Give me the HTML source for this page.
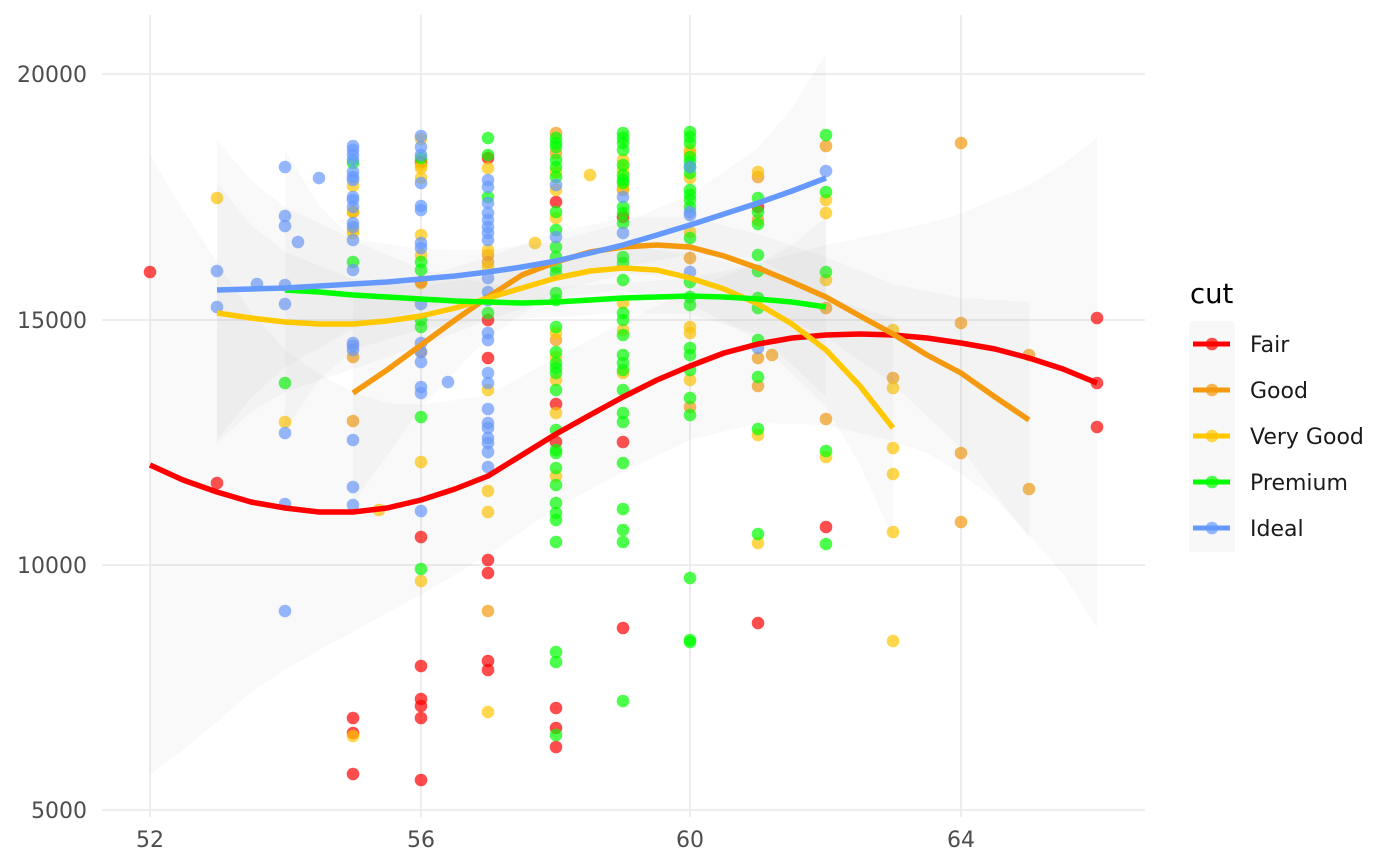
<!DOCTYPE html>
<html><head><meta charset="utf-8"><style>
html,body{margin:0;padding:0;background:#fff;}
svg{display:block;font-family:"DejaVu Sans","Liberation Sans",sans-serif;}
</style></head><body>
<svg width="1400" height="866" viewBox="0 0 1400 866" xmlns="http://www.w3.org/2000/svg">
<rect width="1400" height="866" fill="#fff"/>
<!-- grid -->
<g stroke="#ebebeb" stroke-width="1.8">
<line x1="102" y1="74" x2="1145" y2="74"/>
<line x1="102" y1="320" x2="1145" y2="320"/>
<line x1="102" y1="565" x2="1145" y2="565"/>
<line x1="102" y1="810" x2="1145" y2="810"/>
<line x1="150" y1="15" x2="150" y2="817"/>
<line x1="421" y1="15" x2="421" y2="817"/>
<line x1="690" y1="15" x2="690" y2="817"/>
<line x1="961" y1="15" x2="961" y2="817"/>
</g>
<!-- axis labels -->
<g fill="#4d4d4d" font-size="22">
<text x="87" y="82" text-anchor="end">20000</text>
<text x="87" y="328" text-anchor="end">15000</text>
<text x="87" y="573" text-anchor="end">10000</text>
<text x="87" y="818" text-anchor="end">5000</text>
<text x="150" y="847" text-anchor="middle">52</text>
<text x="421" y="847" text-anchor="middle">56</text>
<text x="690" y="847" text-anchor="middle">60</text>
<text x="961" y="847" text-anchor="middle">64</text>
</g>
<!-- points -->
<g fill-opacity="0.7">
<g fill="#ff0000">
<circle cx="150" cy="272" r="6.3"/><circle cx="217" cy="483" r="6.3"/><circle cx="353" cy="718" r="6.3"/><circle cx="353" cy="733" r="6.3"/><circle cx="353" cy="774" r="6.3"/><circle cx="421" cy="162" r="6.3"/><circle cx="421" cy="282" r="6.3"/><circle cx="421" cy="537" r="6.3"/><circle cx="421" cy="666" r="6.3"/><circle cx="421" cy="699" r="6.3"/><circle cx="421" cy="706" r="6.3"/><circle cx="421" cy="718" r="6.3"/><circle cx="421" cy="780" r="6.3"/><circle cx="488" cy="158" r="6.3"/><circle cx="488" cy="320" r="6.3"/><circle cx="488" cy="358" r="6.3"/><circle cx="488" cy="560" r="6.3"/><circle cx="488" cy="573" r="6.3"/><circle cx="488" cy="661" r="6.3"/><circle cx="488" cy="670" r="6.3"/><circle cx="556" cy="202" r="6.3"/><circle cx="556" cy="404" r="6.3"/><circle cx="556" cy="442" r="6.3"/><circle cx="556" cy="708" r="6.3"/><circle cx="556" cy="728" r="6.3"/><circle cx="556" cy="747" r="6.3"/><circle cx="623" cy="217" r="6.3"/><circle cx="623" cy="442" r="6.3"/><circle cx="623" cy="628" r="6.3"/><circle cx="758" cy="207" r="6.3"/><circle cx="758" cy="623" r="6.3"/><circle cx="826" cy="527" r="6.3"/><circle cx="1097" cy="318" r="6.3"/><circle cx="1097" cy="383" r="6.3"/><circle cx="1097" cy="427" r="6.3"/>
</g>
<g fill="#f59a0f">
<circle cx="353" cy="212" r="6.3"/><circle cx="353" cy="357" r="6.3"/><circle cx="353" cy="421" r="6.3"/><circle cx="421" cy="352" r="6.3"/><circle cx="488" cy="255" r="6.3"/><circle cx="488" cy="262" r="6.3"/><circle cx="488" cy="611" r="6.3"/><circle cx="556" cy="133" r="6.3"/><circle cx="556" cy="153" r="6.3"/><circle cx="556" cy="340" r="6.3"/><circle cx="623" cy="190" r="6.3"/><circle cx="690" cy="153" r="6.3"/><circle cx="690" cy="258" r="6.3"/><circle cx="690" cy="407" r="6.3"/><circle cx="758" cy="177" r="6.3"/><circle cx="758" cy="220" r="6.3"/><circle cx="758" cy="358" r="6.3"/><circle cx="772" cy="355" r="6.3"/><circle cx="758" cy="386" r="6.3"/><circle cx="826" cy="146" r="6.3"/><circle cx="826" cy="308" r="6.3"/><circle cx="826" cy="419" r="6.3"/><circle cx="893" cy="378" r="6.3"/><circle cx="961" cy="143" r="6.3"/><circle cx="961" cy="323" r="6.3"/><circle cx="961" cy="453" r="6.3"/><circle cx="961" cy="522" r="6.3"/><circle cx="1029" cy="355" r="6.3"/><circle cx="1029" cy="489" r="6.3"/>
</g>
<g fill="#ffc400">
<circle cx="217" cy="198" r="6.3"/><circle cx="285" cy="422" r="6.3"/><circle cx="353" cy="186" r="6.3"/><circle cx="353" cy="212" r="6.3"/><circle cx="353" cy="230" r="6.3"/><circle cx="353" cy="233" r="6.3"/><circle cx="353" cy="736" r="6.3"/><circle cx="379" cy="510" r="6.3"/><circle cx="421" cy="139" r="6.3"/><circle cx="421" cy="165" r="6.3"/><circle cx="421" cy="168" r="6.3"/><circle cx="421" cy="178" r="6.3"/><circle cx="421" cy="235" r="6.3"/><circle cx="421" cy="255" r="6.3"/><circle cx="421" cy="283" r="6.3"/><circle cx="421" cy="462" r="6.3"/><circle cx="421" cy="581" r="6.3"/><circle cx="488" cy="168" r="6.3"/><circle cx="488" cy="250" r="6.3"/><circle cx="488" cy="267" r="6.3"/><circle cx="488" cy="390" r="6.3"/><circle cx="488" cy="491" r="6.3"/><circle cx="488" cy="512" r="6.3"/><circle cx="488" cy="712" r="6.3"/><circle cx="535" cy="243" r="6.3"/><circle cx="556" cy="172" r="6.3"/><circle cx="556" cy="190" r="6.3"/><circle cx="556" cy="218" r="6.3"/><circle cx="556" cy="333" r="6.3"/><circle cx="556" cy="357" r="6.3"/><circle cx="556" cy="380" r="6.3"/><circle cx="556" cy="413" r="6.3"/><circle cx="556" cy="476" r="6.3"/><circle cx="590" cy="175" r="6.3"/><circle cx="623" cy="160" r="6.3"/><circle cx="623" cy="170" r="6.3"/><circle cx="623" cy="188" r="6.3"/><circle cx="623" cy="303" r="6.3"/><circle cx="623" cy="330" r="6.3"/><circle cx="623" cy="373" r="6.3"/><circle cx="690" cy="150" r="6.3"/><circle cx="690" cy="178" r="6.3"/><circle cx="690" cy="232" r="6.3"/><circle cx="690" cy="327" r="6.3"/><circle cx="690" cy="333" r="6.3"/><circle cx="690" cy="380" r="6.3"/><circle cx="758" cy="172" r="6.3"/><circle cx="758" cy="435" r="6.3"/><circle cx="758" cy="543" r="6.3"/><circle cx="826" cy="200" r="6.3"/><circle cx="826" cy="213" r="6.3"/><circle cx="826" cy="280" r="6.3"/><circle cx="826" cy="457" r="6.3"/><circle cx="893" cy="330" r="6.3"/><circle cx="893" cy="388" r="6.3"/><circle cx="893" cy="448" r="6.3"/><circle cx="893" cy="474" r="6.3"/><circle cx="893" cy="532" r="6.3"/><circle cx="893" cy="641" r="6.3"/>
</g>
<g fill="#00ff00">
<circle cx="285" cy="383" r="6.3"/><circle cx="353" cy="163" r="6.3"/><circle cx="353" cy="262" r="6.3"/><circle cx="421" cy="158" r="6.3"/><circle cx="421" cy="262" r="6.3"/><circle cx="421" cy="270" r="6.3"/><circle cx="421" cy="320" r="6.3"/><circle cx="421" cy="327" r="6.3"/><circle cx="421" cy="417" r="6.3"/><circle cx="421" cy="569" r="6.3"/><circle cx="488" cy="138" r="6.3"/><circle cx="488" cy="155" r="6.3"/><circle cx="488" cy="197" r="6.3"/><circle cx="488" cy="313" r="6.3"/><circle cx="556" cy="138" r="6.3"/><circle cx="556" cy="143" r="6.3"/><circle cx="556" cy="147" r="6.3"/><circle cx="556" cy="160" r="6.3"/><circle cx="556" cy="167" r="6.3"/><circle cx="556" cy="177" r="6.3"/><circle cx="556" cy="212" r="6.3"/><circle cx="556" cy="230" r="6.3"/><circle cx="556" cy="247" r="6.3"/><circle cx="556" cy="257" r="6.3"/><circle cx="556" cy="267" r="6.3"/><circle cx="556" cy="273" r="6.3"/><circle cx="556" cy="293" r="6.3"/><circle cx="556" cy="300" r="6.3"/><circle cx="556" cy="327" r="6.3"/><circle cx="556" cy="352" r="6.3"/><circle cx="556" cy="363" r="6.3"/><circle cx="556" cy="368" r="6.3"/><circle cx="556" cy="373" r="6.3"/><circle cx="556" cy="390" r="6.3"/><circle cx="556" cy="430" r="6.3"/><circle cx="556" cy="450" r="6.3"/><circle cx="556" cy="453" r="6.3"/><circle cx="556" cy="468" r="6.3"/><circle cx="556" cy="485" r="6.3"/><circle cx="556" cy="503" r="6.3"/><circle cx="556" cy="513" r="6.3"/><circle cx="556" cy="520" r="6.3"/><circle cx="556" cy="542" r="6.3"/><circle cx="556" cy="652" r="6.3"/><circle cx="556" cy="662" r="6.3"/><circle cx="556" cy="735" r="6.3"/><circle cx="623" cy="133" r="6.3"/><circle cx="623" cy="138" r="6.3"/><circle cx="623" cy="143" r="6.3"/><circle cx="623" cy="150" r="6.3"/><circle cx="623" cy="165" r="6.3"/><circle cx="623" cy="175" r="6.3"/><circle cx="623" cy="180" r="6.3"/><circle cx="623" cy="183" r="6.3"/><circle cx="623" cy="207" r="6.3"/><circle cx="623" cy="213" r="6.3"/><circle cx="623" cy="223" r="6.3"/><circle cx="623" cy="257" r="6.3"/><circle cx="623" cy="263" r="6.3"/><circle cx="623" cy="280" r="6.3"/><circle cx="623" cy="313" r="6.3"/><circle cx="623" cy="320" r="6.3"/><circle cx="623" cy="335" r="6.3"/><circle cx="623" cy="355" r="6.3"/><circle cx="623" cy="363" r="6.3"/><circle cx="623" cy="370" r="6.3"/><circle cx="623" cy="390" r="6.3"/><circle cx="623" cy="413" r="6.3"/><circle cx="623" cy="422" r="6.3"/><circle cx="623" cy="463" r="6.3"/><circle cx="623" cy="509" r="6.3"/><circle cx="623" cy="530" r="6.3"/><circle cx="623" cy="542" r="6.3"/><circle cx="623" cy="701" r="6.3"/><circle cx="690" cy="132" r="6.3"/><circle cx="690" cy="137" r="6.3"/><circle cx="690" cy="143" r="6.3"/><circle cx="690" cy="157" r="6.3"/><circle cx="690" cy="162" r="6.3"/><circle cx="690" cy="167" r="6.3"/><circle cx="690" cy="173" r="6.3"/><circle cx="690" cy="190" r="6.3"/><circle cx="690" cy="195" r="6.3"/><circle cx="690" cy="200" r="6.3"/><circle cx="690" cy="207" r="6.3"/><circle cx="690" cy="238" r="6.3"/><circle cx="690" cy="282" r="6.3"/><circle cx="690" cy="297" r="6.3"/><circle cx="690" cy="305" r="6.3"/><circle cx="690" cy="348" r="6.3"/><circle cx="690" cy="355" r="6.3"/><circle cx="690" cy="370" r="6.3"/><circle cx="690" cy="398" r="6.3"/><circle cx="690" cy="415" r="6.3"/><circle cx="690" cy="578" r="6.3"/><circle cx="690" cy="640" r="6.3"/><circle cx="690" cy="642" r="6.3"/><circle cx="758" cy="198" r="6.3"/><circle cx="758" cy="212" r="6.3"/><circle cx="758" cy="224" r="6.3"/><circle cx="758" cy="255" r="6.3"/><circle cx="758" cy="271" r="6.3"/><circle cx="758" cy="298" r="6.3"/><circle cx="758" cy="308" r="6.3"/><circle cx="758" cy="340" r="6.3"/><circle cx="758" cy="377" r="6.3"/><circle cx="758" cy="429" r="6.3"/><circle cx="758" cy="534" r="6.3"/><circle cx="826" cy="135" r="6.3"/><circle cx="826" cy="192" r="6.3"/><circle cx="826" cy="272" r="6.3"/><circle cx="826" cy="451" r="6.3"/><circle cx="826" cy="544" r="6.3"/>
</g>
<g fill="#6699ff">
<circle cx="217" cy="271" r="6.3"/><circle cx="217" cy="307" r="6.3"/><circle cx="257" cy="284" r="6.3"/><circle cx="285" cy="167" r="6.3"/><circle cx="285" cy="216" r="6.3"/><circle cx="285" cy="226" r="6.3"/><circle cx="285" cy="285" r="6.3"/><circle cx="285" cy="304" r="6.3"/><circle cx="285" cy="433" r="6.3"/><circle cx="285" cy="504" r="6.3"/><circle cx="285" cy="611" r="6.3"/><circle cx="298" cy="242" r="6.3"/><circle cx="319" cy="178" r="6.3"/><circle cx="353" cy="146" r="6.3"/><circle cx="353" cy="150" r="6.3"/><circle cx="353" cy="155" r="6.3"/><circle cx="353" cy="160" r="6.3"/><circle cx="353" cy="172" r="6.3"/><circle cx="353" cy="177" r="6.3"/><circle cx="353" cy="180" r="6.3"/><circle cx="353" cy="197" r="6.3"/><circle cx="353" cy="200" r="6.3"/><circle cx="353" cy="207" r="6.3"/><circle cx="353" cy="223" r="6.3"/><circle cx="353" cy="227" r="6.3"/><circle cx="353" cy="240" r="6.3"/><circle cx="353" cy="270" r="6.3"/><circle cx="353" cy="343" r="6.3"/><circle cx="353" cy="346" r="6.3"/><circle cx="353" cy="350" r="6.3"/><circle cx="353" cy="440" r="6.3"/><circle cx="353" cy="487" r="6.3"/><circle cx="353" cy="505" r="6.3"/><circle cx="421" cy="136" r="6.3"/><circle cx="421" cy="147" r="6.3"/><circle cx="421" cy="155" r="6.3"/><circle cx="421" cy="183" r="6.3"/><circle cx="421" cy="206" r="6.3"/><circle cx="421" cy="210" r="6.3"/><circle cx="421" cy="243" r="6.3"/><circle cx="421" cy="248" r="6.3"/><circle cx="421" cy="304" r="6.3"/><circle cx="421" cy="343" r="6.3"/><circle cx="421" cy="352" r="6.3"/><circle cx="421" cy="362" r="6.3"/><circle cx="421" cy="387" r="6.3"/><circle cx="421" cy="393" r="6.3"/><circle cx="421" cy="511" r="6.3"/><circle cx="448" cy="382" r="6.3"/><circle cx="488" cy="180" r="6.3"/><circle cx="488" cy="187" r="6.3"/><circle cx="488" cy="203" r="6.3"/><circle cx="488" cy="213" r="6.3"/><circle cx="488" cy="220" r="6.3"/><circle cx="488" cy="227" r="6.3"/><circle cx="488" cy="233" r="6.3"/><circle cx="488" cy="240" r="6.3"/><circle cx="488" cy="278" r="6.3"/><circle cx="488" cy="292" r="6.3"/><circle cx="488" cy="300" r="6.3"/><circle cx="488" cy="333" r="6.3"/><circle cx="488" cy="340" r="6.3"/><circle cx="488" cy="373" r="6.3"/><circle cx="488" cy="383" r="6.3"/><circle cx="488" cy="409" r="6.3"/><circle cx="488" cy="423" r="6.3"/><circle cx="488" cy="428" r="6.3"/><circle cx="488" cy="438" r="6.3"/><circle cx="488" cy="443" r="6.3"/><circle cx="488" cy="452" r="6.3"/><circle cx="488" cy="467" r="6.3"/><circle cx="556" cy="185" r="6.3"/><circle cx="556" cy="237" r="6.3"/><circle cx="623" cy="197" r="6.3"/><circle cx="623" cy="233" r="6.3"/><circle cx="690" cy="167" r="6.3"/><circle cx="690" cy="212" r="6.3"/><circle cx="690" cy="215" r="6.3"/><circle cx="690" cy="272" r="6.3"/><circle cx="758" cy="348" r="6.3"/><circle cx="826" cy="171" r="6.3"/>
</g>
</g>
<!-- ribbons -->
<g fill="#999999" fill-opacity="0.06">
<polygon points="150,155 183,210 217,262 251,312 285,350 319,374 353,392 387,403 421,405 488,395 556,358 623,322 690,290 758,263 826,245 893,231 927,223 961,214 995,199 1029,185 1063,164 1097,138 1097,628 1063,574 1029,535 995,499 961,474 927,453 893,441 826,425 758,423 690,440 623,472 556,508 488,555 421,595 387,613 353,632 319,650 285,670 251,692 217,722 183,750 150,775"/>
<polygon points="353,283 421,278 488,257 556,232 623,218 690,217 758,234 826,257 893,284 961,298 1029,302 1029,538 961,448 893,384 826,337 758,304 690,277 623,274 556,292 488,337 421,408 353,503"/>
<polygon points="217,183 251,225 285,252 353,279 421,286 488,276 556,258 623,246 690,254 758,270 826,297 893,318 893,538 860,465 826,407 758,340 690,304 623,290 556,298 488,320 421,346 353,369 285,392 251,412 217,443"/>
<polygon points="285,150 319,205 353,240 421,269 488,284 556,287 623,283 690,278 758,264 792,245 826,217 826,397 792,365 758,334 690,314 623,313 556,317 488,320 421,329 353,350 319,380 285,430"/>
<polygon points="217,140 251,180 285,207 353,239 421,249 488,250 556,241 623,223 690,195 758,148 792,108 826,53 826,303 792,278 758,258 690,255 623,267 556,281 488,294 421,309 353,329 285,367 251,398 217,440"/>
</g>
<!-- smooth lines -->
<g fill="none" stroke-width="5.5" stroke-linejoin="round">
<polyline stroke="#ff0000" points="150,465 183,480 217,492 251,502 285,508 319,512 353,512 387,508 421,500 455,489 488,476 522,455 556,434 590,415 623,397 657,380 690,366 724,353 758,344 792,338 826,335 860,334 893,335 927,338 961,343 995,349 1029,358 1063,369 1097,383"/>
<polyline stroke="#f59a0f" points="353,393 387,370 421,345 455,320 488,297 522,275 556,262 590,252 623,247 657,245 690,247 724,256 758,268 792,282 826,297 860,316 893,334 927,355 961,373 995,397 1029,420"/>
<polyline stroke="#ffc800" points="217,313 251,318 285,322 319,324 353,324 387,321 421,316 455,308 488,298 522,288 556,278 590,271 623,268 657,270 690,278 724,289 758,304 792,324 826,350 860,386 893,428"/>
<polyline stroke="#00ff00" points="285,290 319,292 353,295 387,297 421,299 455,301 488,302 522,303 556,302 590,300 623,298 657,297 690,296 724,297 758,299 792,302 826,307"/>
<polyline stroke="#6699ff" points="217,290 251,289 285,288 319,286 353,284 387,282 421,279 455,276 488,272 522,267 556,261 590,253 623,245 657,235 690,225 724,214 758,203 792,191 826,178"/>
</g>
<!-- legend -->
<text x="1190" y="303" font-size="27.5" fill="#000">cut</text>
<rect x="1189" y="321" width="46" height="231" fill="#f8f8f8"/>
<g stroke-width="5">
<line x1="1193" y1="344" x2="1230" y2="344" stroke="#ff0000"/>
<line x1="1193" y1="390" x2="1230" y2="390" stroke="#f59a0f"/>
<line x1="1193" y1="436" x2="1230" y2="436" stroke="#ffc800"/>
<line x1="1193" y1="482" x2="1230" y2="482" stroke="#00ff00"/>
<line x1="1193" y1="528" x2="1230" y2="528" stroke="#6699ff"/>
</g>
<g fill-opacity="0.7">
<circle cx="1212" cy="344" r="6.3" fill="#ff0000"/>
<circle cx="1212" cy="390" r="6.3" fill="#f59a0f"/>
<circle cx="1212" cy="436" r="6.3" fill="#ffc400"/>
<circle cx="1212" cy="482" r="6.3" fill="#00ff00"/>
<circle cx="1212" cy="528" r="6.3" fill="#6699ff"/>
</g>
<g font-size="22" fill="#1a1a1a">
<text x="1250" y="352">Fair</text>
<text x="1250" y="398">Good</text>
<text x="1250" y="444">Very Good</text>
<text x="1250" y="490">Premium</text>
<text x="1250" y="536">Ideal</text>
</g>
</svg>
</body></html>
